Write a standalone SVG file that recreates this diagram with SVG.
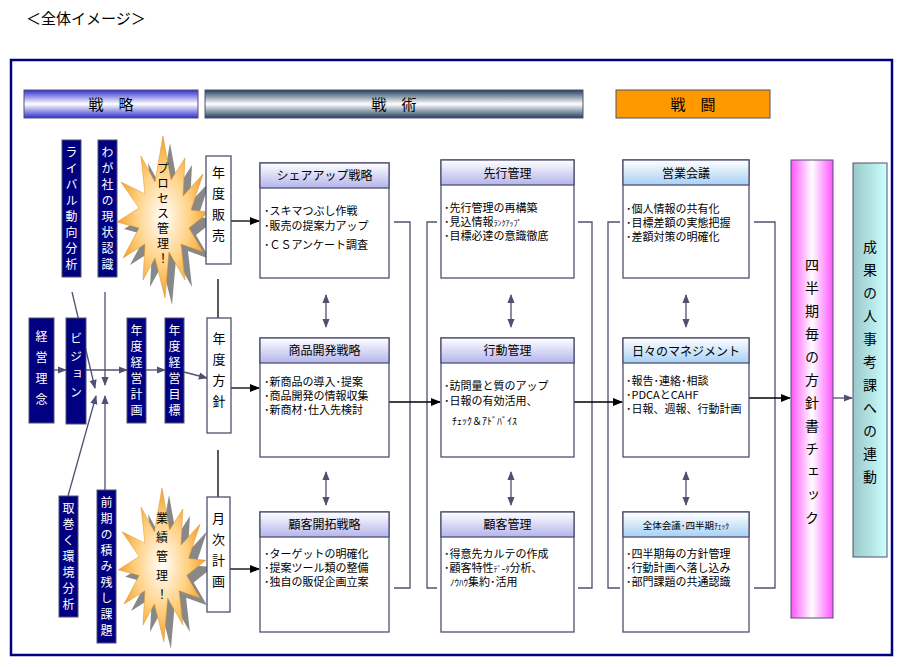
<svg xmlns="http://www.w3.org/2000/svg" width="903" height="667" viewBox="0 0 903 667">
<defs>
<linearGradient id="gBlue" x1="0" y1="0" x2="0" y2="1"><stop offset="0" stop-color="#3030d0"/><stop offset="0.5" stop-color="#ffffff"/><stop offset="1" stop-color="#3030d0"/></linearGradient>
<linearGradient id="gSlate" x1="0" y1="0" x2="0" y2="1"><stop offset="0" stop-color="#1f3f5f"/><stop offset="0.5" stop-color="#ffffff"/><stop offset="1" stop-color="#1f3f5f"/></linearGradient>
<linearGradient id="gHead" x1="0" y1="0" x2="0" y2="1"><stop offset="0" stop-color="#ffffff"/><stop offset="1" stop-color="#b4b4ec"/></linearGradient>
<linearGradient id="gHead2" x1="0" y1="0" x2="0" y2="1"><stop offset="0" stop-color="#ffffff"/><stop offset="1" stop-color="#a8d0f4"/></linearGradient>
<linearGradient id="gPink" x1="0" y1="0" x2="1" y2="0"><stop offset="0" stop-color="#ff55ff"/><stop offset="0.5" stop-color="#ffffff"/><stop offset="1" stop-color="#ff55ff"/></linearGradient>
<linearGradient id="gTeal" x1="0" y1="0" x2="1" y2="0"><stop offset="0" stop-color="#99c8c8"/><stop offset="1" stop-color="#ccffff"/></linearGradient>
<radialGradient id="gStar"><stop offset="0" stop-color="#ffffff"/><stop offset="0.6" stop-color="#ffd080"/><stop offset="1" stop-color="#f0a030"/></radialGradient>
<marker id="ab" viewBox="0 0 10 10" refX="9" refY="5" markerWidth="8" markerHeight="8" orient="auto-start-reverse"><path d="M0,1L10,5L0,9z" fill="#000"/></marker>
<marker id="ag" viewBox="0 0 10 10" refX="9" refY="5" markerWidth="7" markerHeight="7" orient="auto-start-reverse"><path d="M0,1L10,5L0,9z" fill="#505070"/></marker>
<polygon id="star" points="0,-82 8,-38 22,-60 20,-22 40,-44 28,-8 46,-6 26,10 40,34 18,26 22,62 6,34 2,80 -8,40 -20,62 -18,26 -40,40 -24,10 -46,4 -24,-10 -42,-36 -18,-24 -22,-62 -8,-36"/>
</defs>
<style>
text{font-family:"Noto Sans CJK JP","Liberation Sans",sans-serif;fill:#000}
.box{fill:#fff;stroke:#505070;stroke-width:1.3}
.nv{fill:#000080;stroke:#505070;stroke-width:1}
.vt{writing-mode:vertical-rl;text-orientation:upright;font-size:12px;fill:#fff;letter-spacing:4px}
.vb{writing-mode:vertical-rl;text-orientation:upright;font-size:13px;letter-spacing:8px}
.hd{font-size:12px;text-anchor:middle}
.bd{font-size:11px}
.ln{stroke:#505070;stroke-width:1.3;fill:none}
.lk{stroke:#000;stroke-width:1.3;fill:none}
</style>
<rect width="903" height="667" fill="#fff"/>
<text x="26" y="24" font-size="15">＜全体イメージ＞</text>
<rect x="11" y="60" width="881" height="595" fill="none" stroke="#000080" stroke-width="2.5"/>

<g id="headers">
<rect x="24" y="90" width="174" height="28" fill="url(#gBlue)" stroke="#505070"/>
<text x="111" y="110" font-size="15" text-anchor="middle">戦　略</text>
<rect x="205" y="90" width="378" height="28" fill="url(#gSlate)" stroke="#505070"/>
<text x="394" y="110" font-size="15" text-anchor="middle">戦　術</text>
<rect x="616" y="90" width="154" height="28" fill="#ff9900" stroke="#505070"/>
<text x="693" y="110" font-size="15" text-anchor="middle">戦　闘</text>
</g>

<g id="connectors">
<line class="ln" x1="72" y1="292" x2="95" y2="388" marker-end="url(#ag)"/>
<line class="ln" x1="105" y1="292" x2="105" y2="385" marker-end="url(#ag)"/>
<line class="ln" x1="68" y1="496" x2="96" y2="396" marker-end="url(#ag)"/>
<line class="ln" x1="105" y1="490" x2="105" y2="396" marker-end="url(#ag)"/>
<line class="ln" x1="54" y1="370" x2="66" y2="370" marker-end="url(#ag)"/>
<line class="ln" x1="86" y1="370" x2="127" y2="370" marker-end="url(#ag)"/>
<line class="ln" x1="146" y1="370" x2="165" y2="370" marker-end="url(#ag)"/>
<line class="ln" x1="184" y1="372" x2="207" y2="378" marker-end="url(#ag)"/>
<line class="lk" x1="218" y1="279" x2="218" y2="318"/>
<line class="lk" x1="218" y1="450" x2="218" y2="497"/>
<line class="lk" x1="231" y1="221" x2="259" y2="221" marker-end="url(#ab)"/>
<line class="lk" x1="231" y1="388" x2="259" y2="388" marker-end="url(#ab)"/>
<line class="lk" x1="230" y1="569" x2="259" y2="569" marker-end="url(#ab)"/>
<path class="ln" d="M394,222H410V588H394M437,222H427V588H437M578,222H592V588H578M620,222H608V588H620M754,222H775V588H754"/>
<line class="lk" x1="389" y1="402" x2="440" y2="402" marker-end="url(#ab)"/>
<line class="lk" x1="574" y1="402" x2="622" y2="402" marker-end="url(#ab)"/>
<line class="lk" x1="749" y1="398" x2="790" y2="398" marker-end="url(#ab)"/>
<line class="ln" x1="833" y1="398" x2="852" y2="398" marker-end="url(#ag)"/>
<line class="ln" x1="326" y1="295" x2="326" y2="327" marker-start="url(#ag)" marker-end="url(#ag)"/>
<line class="ln" x1="326" y1="472" x2="326" y2="505" marker-start="url(#ag)" marker-end="url(#ag)"/>
<line class="ln" x1="511" y1="295" x2="511" y2="327" marker-start="url(#ag)" marker-end="url(#ag)"/>
<line class="ln" x1="511" y1="472" x2="511" y2="505" marker-start="url(#ag)" marker-end="url(#ag)"/>
<line class="ln" x1="686" y1="295" x2="686" y2="327" marker-start="url(#ag)" marker-end="url(#ag)"/>
<line class="ln" x1="686" y1="472" x2="686" y2="505" marker-start="url(#ag)" marker-end="url(#ag)"/>
</g>

<g id="n-rival"><rect class="nv" x="62" y="140" width="19" height="137"/><text class="vt" x="71.5" y="146">ライバル動向分析</text></g>
<g id="n-genjo"><rect class="nv" x="98" y="140" width="19" height="137"/><text class="vt" x="107.5" y="146">わが社の現状認識</text></g>
<g id="n-rinen"><rect class="nv" x="29" y="318" width="25" height="105"/><text class="vt" x="41.5" y="330" style="letter-spacing:9px">経営理念</text></g>
<g id="n-vision"><rect class="nv" x="66" y="318" width="20" height="106"/><text class="vt" x="76" y="332" style="letter-spacing:6px">ビジョン</text></g>
<g id="n-keikaku"><rect class="nv" x="127" y="318" width="19" height="105"/><text class="vt" x="136.5" y="324">年度経営計画</text></g>
<g id="n-mokuhyo"><rect class="nv" x="165" y="318" width="19" height="105"/><text class="vt" x="174.5" y="324">年度経営目標</text></g>
<g id="n-kankyo"><rect class="nv" x="59" y="496" width="19" height="121"/><text class="vt" x="68.5" y="502">取巻く環境分析</text></g>
<g id="n-zenki"><rect class="nv" x="97" y="490" width="19" height="153"/><text class="vt" x="106.5" y="496">前期の積み残し課題</text></g>

<g id="n-process">
<use href="#star" transform="translate(170,225)" fill="#888"/>
<use href="#star" transform="translate(163,218)" fill="url(#gStar)" stroke="#e09020" stroke-width="0.5"/>
<text class="vt" x="163" y="162" style="fill:#000;letter-spacing:3px">プロセス管理！</text>
</g>
<g id="n-gyoseki">
<use href="#star" transform="translate(169,573) scale(0.95)" fill="#888"/>
<use href="#star" transform="translate(162,566) scale(0.95)" fill="url(#gStar)" stroke="#e09020" stroke-width="0.5"/>
<text class="vt" x="162" y="512" style="fill:#000;letter-spacing:7px">業績管理！</text>
</g>

<g id="n-nendohanbai"><rect class="box" x="206" y="156" width="25" height="108"/><text class="vb" x="218.5" y="166">年度販売</text></g>
<g id="n-nendohoshin"><rect class="box" x="207" y="318" width="24" height="115"/><text class="vb" x="219" y="332">年度方針</text></g>
<g id="n-getsuji"><rect class="box" x="207" y="497" width="23" height="115"/><text class="vb" x="218.5" y="512">月次計画</text></g>

<g id="n-share"><rect class="box" x="260" y="163" width="129" height="115"/><rect class="box" x="260" y="163" width="129" height="25" style="fill:url(#gHead)"/><text class="hd" x="324.5" y="180">シェアアップ戦略</text>
<text class="bd" x="264" y="215">･スキマつぶし作戦</text><text class="bd" x="264" y="230">･販売の提案力アップ</text><text class="bd" x="264" y="249">･ＣＳアンケート調査</text></g>
<g id="n-shohin"><rect class="box" x="260" y="338" width="129" height="119"/><rect class="box" x="260" y="338" width="129" height="25" style="fill:url(#gHead)"/><text class="hd" x="324.5" y="355">商品開発戦略</text>
<text class="bd" x="264" y="386">･新商品の導入･提案</text><text class="bd" x="264" y="400">･商品開発の情報収集</text><text class="bd" x="264" y="414">･新商材･仕入先検討</text></g>
<g id="n-kokyakukaitaku"><rect class="box" x="260" y="512" width="129" height="120"/><rect class="box" x="260" y="512" width="129" height="25" style="fill:url(#gHead)"/><text class="hd" x="324.5" y="529">顧客開拓戦略</text>
<text class="bd" x="264" y="558">･ターゲットの明確化</text><text class="bd" x="264" y="572">･提案ツール類の整備</text><text class="bd" x="264" y="586">･独自の販促企画立案</text></g>

<g id="n-senko"><rect class="box" x="441" y="160" width="133" height="118"/><rect class="box" x="441" y="160" width="133" height="25" style="fill:url(#gHead)"/><text class="hd" x="507.5" y="178">先行管理</text>
<text class="bd" x="444" y="212">･先行管理の再構築</text><text class="bd" x="444" y="226">･見込情報<tspan font-size="8">ﾗﾝｸｱｯﾌﾟ</tspan></text><text class="bd" x="444" y="240">･目標必達の意識徹底</text></g>
<g id="n-kodo"><rect class="box" x="441" y="338" width="133" height="119"/><rect class="box" x="441" y="338" width="133" height="25" style="fill:url(#gHead)"/><text class="hd" x="507.5" y="355">行動管理</text>
<text class="bd" x="444" y="390">･訪問量と質のアップ</text><text class="bd" x="444" y="405">･日報の有効活用、</text><text x="452" y="425" font-size="10">ﾁｪｯｸ＆ｱﾄﾞﾊﾞｲｽ</text></g>
<g id="n-kokyakukanri"><rect class="box" x="441" y="512" width="133" height="120"/><rect class="box" x="441" y="512" width="133" height="25" style="fill:url(#gHead)"/><text class="hd" x="507.5" y="529">顧客管理</text>
<text class="bd" x="444" y="558">･得意先カルテの作成</text><text class="bd" x="444" y="572">･顧客特性<tspan font-size="8">ﾃﾞｰﾀ</tspan>分析、</text><text class="bd" x="450" y="586"><tspan font-size="9">ﾉｳﾊｳ</tspan>集約･活用</text></g>

<g id="n-eigyo"><rect class="box" x="623" y="160" width="126" height="118"/><rect class="box" x="623" y="160" width="126" height="25" style="fill:url(#gHead2)"/><text class="hd" x="686" y="178">営業会議</text>
<text class="bd" x="626" y="213">･個人情報の共有化</text><text class="bd" x="626" y="227">･目標差額の実態把握</text><text class="bd" x="626" y="241">･差額対策の明確化</text></g>
<g id="n-hibi"><rect class="box" x="623" y="338" width="126" height="119"/><rect class="box" x="623" y="338" width="126" height="25" style="fill:url(#gHead2)"/><text class="hd" x="686" y="356">日々のマネジメント</text>
<text class="bd" x="626" y="385">･報告･連絡･相談</text><text class="bd" x="626" y="399">･PDCAとCAHF</text><text class="bd" x="626" y="413">･日報、週報、行動計画</text></g>
<g id="n-zentai"><rect class="box" x="623" y="512" width="126" height="120"/><rect class="box" x="623" y="512" width="126" height="25" style="fill:url(#gHead2)"/><text x="686" y="529" font-size="9.5" text-anchor="middle">全体会議･四半期<tspan font-size="7.5">ﾁｪｯｸ</tspan></text>
<text class="bd" x="626" y="558">･四半期毎の方針管理</text><text class="bd" x="626" y="572">･行動計画へ落し込み</text><text class="bd" x="626" y="586">･部門課題の共通認識</text></g>

<g id="n-shihanki"><rect x="791" y="160" width="42" height="458" fill="url(#gPink)" stroke="#505070"/><text class="vb" x="812" y="258" style="font-size:14px;letter-spacing:9px">四半期毎の方針書チェック</text></g>
<g id="n-jinji"><rect x="853" y="163" width="34" height="394" fill="url(#gTeal)" stroke="#505070"/><text class="vb" x="870" y="240" style="font-size:14px;letter-spacing:9px">成果の人事考課への連動</text></g>
</svg>
